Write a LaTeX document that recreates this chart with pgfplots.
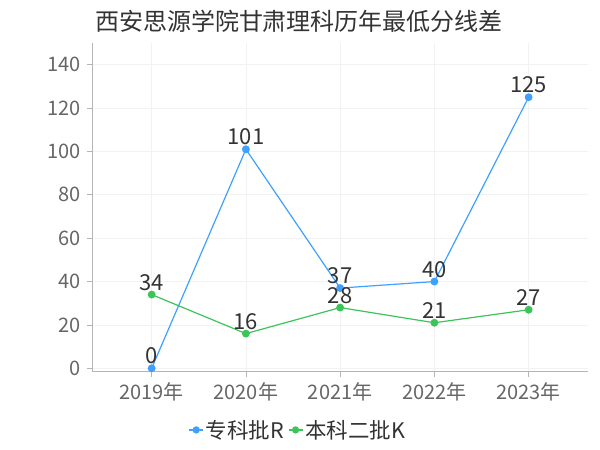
\documentclass[border=0pt]{standalone}
\usepackage{pgfplots}
\pgfplotsset{compat=1.18}
\usepackage{fontspec}
\setmainfont{Noto Sans CJK SC}
\definecolor{cblue}{HTML}{3FA0FF}
\definecolor{cgreen}{HTML}{3CC35A}
\definecolor{tickgray}{HTML}{666666}
\definecolor{labgray}{HTML}{333333}
\definecolor{gridc}{HTML}{F2F2F2}
\definecolor{axisc}{HTML}{B5B5B5}
\begin{document}
\begin{tikzpicture}[x=1pt,y=1pt]
\path (0,0) rectangle (600,450);
\node[font=\fontsize{24}{28}\selectfont, text=labgray] at (299,429) {西安思源学院甘肃理科历年最低分线差};
\begin{axis}[
  at={(92pt,78pt)}, anchor=south west,
  scale only axis, width=496pt, height=329pt,
  xmin=-0.633, xmax=4.63, ymin=-1.7, ymax=150,
  xtick={0,1,2,3,4},
  xticklabels={2019年,2020年,2021年,2022年,2023年},
  ytick={0,20,40,60,80,100,120,140},
  /pgf/number format/assume math mode=true,
  ticklabel style={font=\fontsize{20}{23}\selectfont, text=tickgray},
  tick style={axisc, line width=0.8pt},
  major tick length=5pt,
  tick align=outside,
  xtick pos=bottom, ytick pos=left,
  axis x line*=bottom, axis y line*=left,
  axis line style={axisc, line width=1pt, -},
  grid=major,
  major grid style={gridc, line width=0.8pt},
  yticklabel style={xshift=-3pt},
  xticklabel style={yshift=-2pt},
  every node near coord/.append style={font=\fontsize{22}{26}\selectfont, text=labgray, anchor=south, inner sep=0pt, yshift=3.5pt},
  legend style={at={(0.415,-0.176)}, anchor=center, draw=none, fill=none,
    font=\fontsize{21.5}{24}\selectfont, text=labgray, legend columns=2,
    /tikz/every even column/.append style={column sep=2pt}},
  legend image code/.code={
    \draw[#1, mark=none] (0pt,0pt) -- (14pt,0pt);
    \fill[#1] (7pt,0pt) circle (3pt);
  },
  clip=false,
]
\addplot+[cblue, line width=1.2pt, mark=*, mark size=3.3pt, mark options={fill=cblue, draw=cblue}, nodes near coords] coordinates {(0,0) (1,101) (2,37) (3,40) (4,125)};
\addlegendentry{专科批R}
\addplot+[cgreen, line width=1.2pt, mark=*, mark size=3.3pt, mark options={fill=cgreen, draw=cgreen}, nodes near coords] coordinates {(0,34) (1,16) (2,28) (3,21) (4,27)};
\addlegendentry{本科二批K}
\end{axis}
\end{tikzpicture}
\end{document}
